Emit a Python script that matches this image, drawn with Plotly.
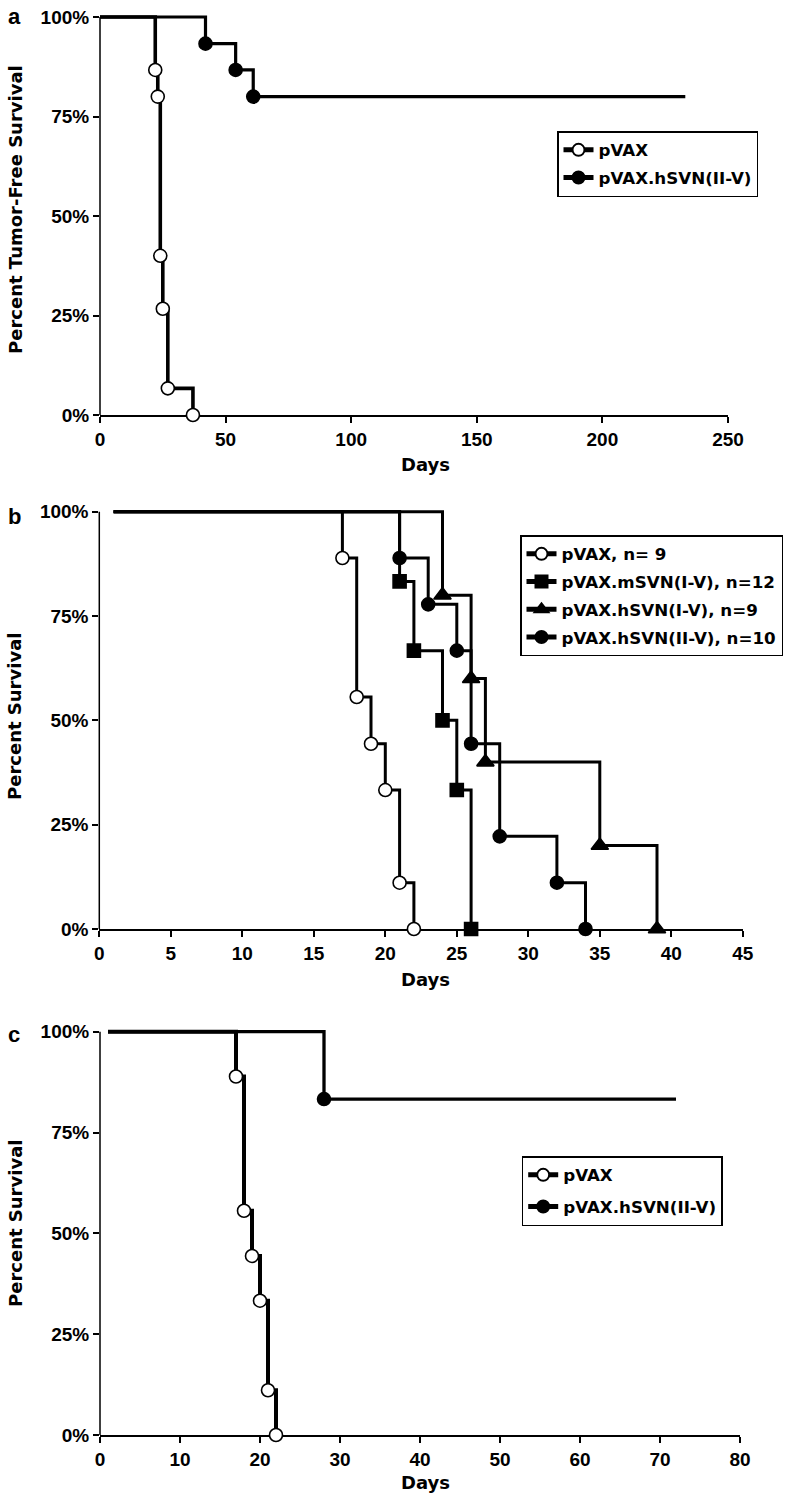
import plotly.graph_objects as go

# ---------------- data ----------------
# Panel a: Percent tumor-free survival
a_days_pvax = [0, 22, 23, 24, 25, 27, 37]
a_surv_pvax = [100, 86.7, 80.0, 40.0, 26.7, 6.7, 0]
a_days_hsvn = [0, 42, 54, 61, 233]
a_surv_hsvn = [100, 93.3, 86.7, 80.0, 80.0]

# Panel b: Percent survival
b_days_pvax = [1, 17, 18, 19, 20, 21, 22]
b_surv_pvax = [100, 88.9, 55.6, 44.4, 33.3, 11.1, 0]
b_days_msvn = [1, 21, 22, 24, 25, 26]
b_surv_msvn = [100, 83.3, 66.7, 50.0, 33.3, 0]
b_days_hsvn1 = [1, 24, 26, 27, 35, 39]
b_surv_hsvn1 = [100, 80.0, 60.0, 40.0, 20.0, 0]
b_days_hsvn2 = [1, 21, 23, 25, 26, 28, 32, 34]
b_surv_hsvn2 = [100, 88.9, 77.8, 66.7, 44.4, 22.2, 11.1, 0]

# Panel c: Percent survival
c_days_pvax = [1, 17, 18, 19, 20, 21, 22]
c_surv_pvax = [100, 88.9, 55.6, 44.4, 33.3, 11.1, 0]
c_days_hsvn = [1, 28, 72]
c_surv_hsvn = [100, 83.3, 83.3]

a_names = ["pVAX", "pVAX.hSVN(II-V)"]
b_names = ["pVAX, n= 9", "pVAX.mSVN(I-V), n=12", "pVAX.hSVN(I-V), n=9", "pVAX.hSVN(II-V), n=10"]
c_names = ["pVAX", "pVAX.hSVN(II-V)"]

y_tickvals = [0, 25, 50, 75, 100]
y_ticktext = ["0%", "25%", "50%", "75%", "100%"]
a_xticks = [0, 50, 100, 150, 200, 250]
b_xticks = [0, 5, 10, 15, 20, 25, 30, 35, 40, 45]
c_xticks = [0, 10, 20, 30, 40, 50, 60, 70, 80]

# ---------------- layout helpers ----------------
W, H = 797, 1497
OFF = 0          # page body margin is removed by the post script
FONT = "DejaVu Sans"
TICKFONT = "Liberation Sans"
YMAX = 101.5


def fx(px):
    return (px - OFF) / W


def fy(py):
    return min(1.0, max(0.0, 1 - (py - OFF) / H))


def event_sizes(vals, size):
    """Marker only where the survival value changes (events)."""
    out = [0]
    for prev, v in zip(vals[:-1], vals[1:]):
        out.append(size if v != prev else 0)
    return out


fig = go.Figure()


def add_curve(days, surv, name, sym, fill, lw, msize, ax, legend):
    fig.add_trace(go.Scatter(
        x=days, y=surv, name=name, mode="lines+markers",
        line=dict(shape="hv", color="black", width=lw),
        marker=dict(symbol=sym, size=event_sizes(surv, msize), color=fill, opacity=1,
                    line=dict(color="black", width=1.6)),
        xaxis="x" + ax, yaxis="y" + ax, legend=legend, legendgroup=name + ax,
        cliponaxis=False, hoverinfo="skip"))


# panel a (axes x/y)
add_curve(a_days_pvax, a_surv_pvax, a_names[0], "circle", "white", 3.6, 13, "", "legend")
add_curve(a_days_hsvn, a_surv_hsvn, a_names[1], "circle", "black", 3.2, 13, "", "legend")
# panel b (axes x2/y2)
add_curve(b_days_pvax, b_surv_pvax, b_names[0], "circle", "white", 3.0, 13, "2", "legend2")
add_curve(b_days_msvn, b_surv_msvn, b_names[1], "square", "black", 3.0, 13, "2", "legend2")
add_curve(b_days_hsvn1, b_surv_hsvn1, b_names[2], "triangle-up", "black", 3.0, 15, "2", "legend2")
add_curve(b_days_hsvn2, b_surv_hsvn2, b_names[3], "circle", "black", 3.0, 13, "2", "legend2")
# panel c (axes x3/y3)
add_curve(c_days_pvax, c_surv_pvax, c_names[0], "circle", "white", 4.0, 13, "3", "legend3")
add_curve(c_days_hsvn, c_surv_hsvn, c_names[1], "circle", "black", 3.3, 13, "3", "legend3")

panels = [
    # suffix, x px left, x px right, x range max, y px at 0%, y px at 100%, xticks
    ("", 100.0, 728.0, 250, 415.0, 17.0, a_xticks),
    ("2", 99.3, 742.8, 45, 929.0, 511.7, b_xticks),
    ("3", 100.0, 740.0, 80, 1435.0, 1031.7, c_xticks),
]

tickfont = dict(family=TICKFONT, size=19, color="black", weight="bold")
axes = {}
shapes = []
for suf, xl, xr, xmax, y0, y100, xt in panels:
    ppu = (y0 - y100) / 100.0
    ytop = y0 - YMAX * ppu
    axes["xaxis" + suf] = dict(
        domain=[fx(xl), fx(xr)], range=[0, xmax], tickvals=xt,
        ticks="outside", ticklen=6, tickwidth=1.5, tickcolor="black",
        showline=True, linewidth=1.5, linecolor="black", automargin=False,
        showgrid=False, zeroline=False, tickfont=tickfont, ticklabeloverflow="allow",
        anchor="y" + suf, layer="below traces", fixedrange=True)
    axes["yaxis" + suf] = dict(
        domain=[fy(y0), fy(ytop)], range=[0, YMAX], tickvals=y_tickvals,
        ticktext=y_ticktext, ticks="outside", ticklen=6, tickwidth=1.5,
        tickcolor="black", showline=False, showgrid=False, zeroline=False,
        automargin=False, tickfont=tickfont, ticklabeloverflow="allow",
        anchor="x" + suf, layer="below traces", fixedrange=True)
    shapes.append(dict(type="line", xref=("x" + suf) + " domain", yref="y" + suf,
                       x0=0, x1=0, y0=0, y1=100,
                       line=dict(color="black", width=1.5), layer="below"))

legfont = dict(family=FONT, size=16.7, color="black", weight="bold")


def legend_box(xpx, ypx, gap):
    return dict(x=fx(xpx), y=fy(ypx), xanchor="left", yanchor="top",
                bordercolor="black", borderwidth=1.5, bgcolor="white",
                font=legfont, itemsizing="constant", traceorder="grouped",
                tracegroupgap=gap, itemclick=False, itemdoubleclick=False)


titlefont = dict(family=FONT, size=18, color="black", weight="bold")
letterfont = dict(family=TICKFONT, size=22, color="black", weight="bold")

annotations = []
# panel letters
for letter, ypx in (("a", 17), ("b", 517), ("c", 1034)):
    annotations.append(dict(text=letter, x=fx(14), y=fy(ypx), xref="paper", yref="paper",
                            showarrow=False, font=letterfont, xanchor="center", yanchor="middle"))
# y titles
for txt, ypx in (("Percent Tumor-Free Survival", 210), ("Percent Survival", 717), ("Percent Survival", 1224)):
    annotations.append(dict(text=txt, x=fx(15), y=fy(ypx), xref="paper", yref="paper",
                            showarrow=False, font=titlefont, textangle=-90,
                            xanchor="center", yanchor="middle"))
# x titles
for xpx, ypx in ((425, 465), (425, 979), (425, 1482)):
    annotations.append(dict(text="Days", x=fx(xpx), y=fy(ypx), xref="paper", yref="paper",
                            showarrow=False, font=titlefont, xanchor="center", yanchor="middle"))

fig.update_layout(
    width=W, height=H, margin=dict(l=0, r=0, t=0, b=0, autoexpand=False),
    paper_bgcolor="white", plot_bgcolor="white",
    font=dict(family=FONT, color="black"),
    legend=legend_box(557, 131, 3),
    legend2=legend_box(520, 535, 3),
    legend3=legend_box(521.7, 1156, 7),
    shapes=shapes, annotations=annotations, hovermode=False,
    **axes)

fig.write_html("out.html", config={"displayModeBar": False},
               post_script="document.body.style.margin='0';document.body.style.padding='0';")
